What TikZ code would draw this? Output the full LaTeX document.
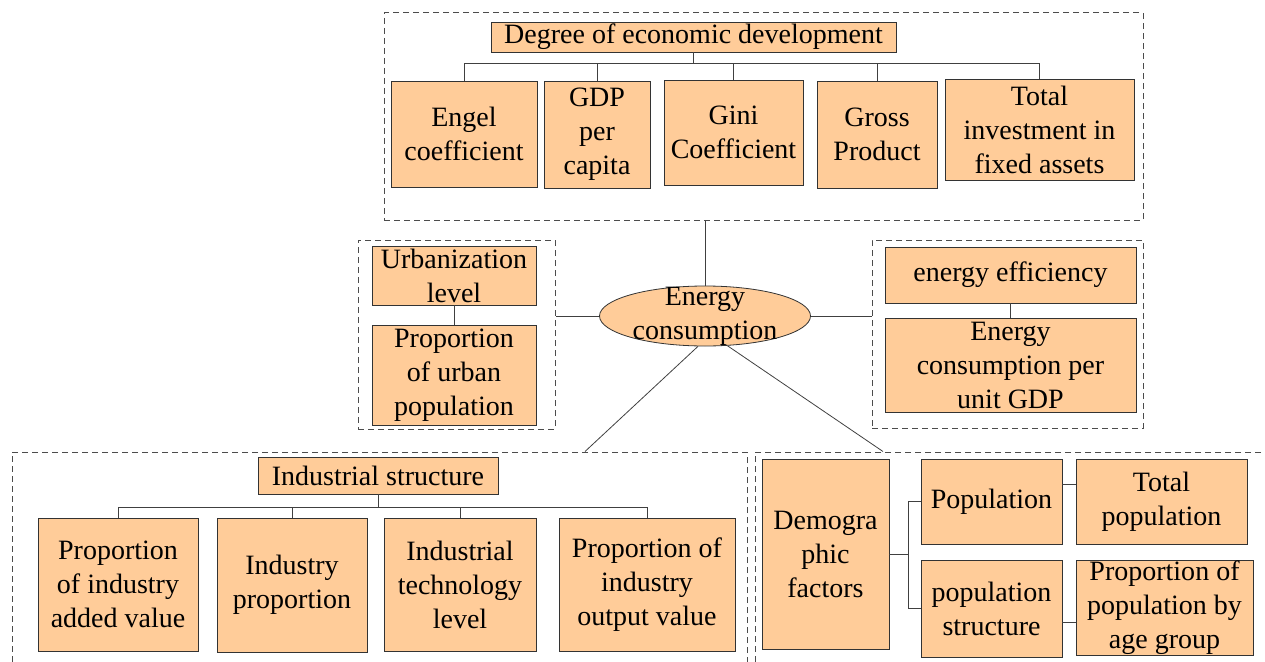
\documentclass[tikz,border=0pt]{standalone}
\usepackage{fontspec}
\setmainfont{Liberation Serif}
\usetikzlibrary{positioning,shapes.geometric}
\definecolor{boxfill}{HTML}{FFCC99}
\tikzset{
sz/.style 2 args={minimum width=#1, minimum height=#2},
factor/.style={
  rectangle, draw=black!80, fill=boxfill, line width=0.8pt,
  inner sep=0pt, align=center,
  font=\fontsize{28}{34}\selectfont
  },
core/.style={
  ellipse, draw=black!80, fill=boxfill, line width=0.8pt, inner sep=0pt
  },
fgroup/.style={
  rectangle, draw=black!70, line width=1pt,
  dash pattern=on 6pt off 4pt, inner sep=0pt
  },
link/.style={draw=black!75, line width=0.8pt}
}

\begin{document}
\begin{tikzpicture}[x=1pt,y=-1pt]
\useasboundingbox (0,0) rectangle (1265,661);
\clip (0,0) rectangle (1265,661);

% dashed groups
\node[fgroup, sz={759}{207}] (econgrp) at (763.5,116.5) {};
\node[fgroup, sz={197}{189}] (urbgrp) at (456.5,334.5) {};
\node[fgroup, sz={271}{188}] (effgrp) at (1007.5,334) {};
\node[fgroup, sz={735}{216}] (indgrp) at (379.5,560) {};
\node[fgroup, sz={520}{216}] (demgrp) at (1015,560) {};

% economic development
\node[factor, sz={405}{30}] (econ) at (693.5,37) {Degree of economic development};
\node[factor, sz={146}{106}] (engel) at (464,134) {Engel\\coefficient};
\node[factor, sz={106}{107}] (gdp) at (597,134.5) {GDP\\per\\capita};
\node[factor, sz={139}{105}] (gini) at (733.5,132.5) {Gini\\Coefficient};
\node[factor, sz={120}{107}] (gross) at (877,134.5) {Gross\\Product};
\node[factor, sz={189}{101}] (invest) at (1039.5,129.5) {Total\\investment in\\fixed assets};

\draw[link] (econ.south) -- ++(0,11) coordinate (econbus);
\draw[link] (econbus) -| (engel.north);
\draw[link] (econbus) -| (gdp.north);
\draw[link] (econbus) -| (gini.north);
\draw[link] (econbus) -| (gross.north);
\draw[link] (econbus) -| (invest.north);

% urbanization
\node[factor, sz={164}{59}] (urban) at (454,275.5) {Urbanization\\level};
\node[factor, sz={164}{100}] (urbpop) at (454,375) {Proportion\\of urban\\population};
\draw[link] (urban.south) -- (urbpop.north);

% energy efficiency
\node[factor, sz={251}{56}] (eff) at (1010.5,275) {energy efficiency};
\node[factor, sz={251}{94}] (epg) at (1010.5,365) {Energy\\consumption per\\unit GDP};
\draw[link] (eff.south) -- (epg.north);

% centre
\node[core, sz={211}{60},
  label={[font=\fontsize{28}{34}\selectfont, align=center]center:Energy\\consumption}]
  (energy) at (705,316) {};

\draw[link] (energy.north) -- (energy.north |- econgrp.south);
\draw[link] (energy.west) -- (energy.west -| urbgrp.east);
\draw[link] (energy.east) -- (energy.east -| effgrp.west);
\draw[link] (energy.257) -- ([xshift=205.5pt]indgrp.north);
\draw[link] (energy.307) -- ([xshift=-132pt]demgrp.north);

% industrial structure
\node[factor, sz={240}{37}] (ind) at (378,475.5) {Industrial structure};
\node[factor, sz={160}{133}] (addv) at (118,584.5) {Proportion\\of industry\\added value};
\node[factor, sz={150}{134}] (indp) at (292,585) {Industry\\proportion};
\node[factor, sz={152}{133}] (tech) at (460,584.5) {Industrial\\technology\\level};
\node[factor, sz={176}{133}] (outv) at (647,584.5) {Proportion of\\industry\\output value};

\draw[link] (ind.south) -- ++(0,13) coordinate (indbus);
\draw[link] (indbus) -| (addv.north);
\draw[link] (indbus) -| (indp.north);
\draw[link] (indbus) -| (tech.north);
\draw[link] (indbus) -| (outv.north);

% demographic factors
\node[factor, sz={127}{190}] (demo) at (825.5,554) {Demogra\\phic\\factors};
\node[factor, sz={141}{85}] (pop) at (991.5,501.5) {Population};
\node[factor, sz={171}{85}] (totpop) at (1161.5,501.5) {Total\\population};
\node[factor, sz={141}{97}] (popst) at (991.5,608.5) {population\\structure};
\node[factor, sz={177}{95}] (agegrp) at (1164.5,607.5) {Proportion of\\population by\\age group};

\draw[link] (demo.east) -- ++(19,0) coordinate (demobus);
\draw[link] (demobus) |- (pop.west);
\draw[link] (demobus) |- (popst.west);
\draw[link] ([yshift=17pt]pop.east) -- ([yshift=17pt]pop.east -| totpop.west);
\draw[link] ([yshift=-14pt]popst.east) -- ([yshift=-14pt]popst.east -| agegrp.west);

\end{tikzpicture}
\end{document}
